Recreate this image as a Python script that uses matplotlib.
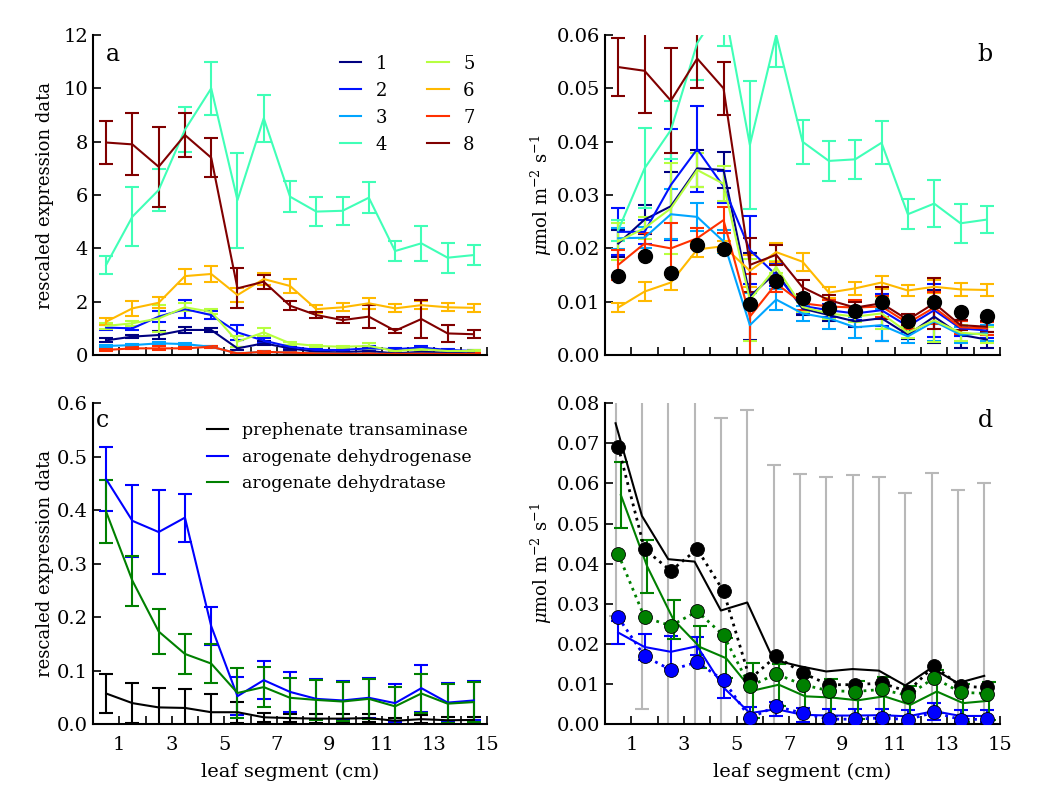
import matplotlib
matplotlib.use("Agg")
import matplotlib.pyplot as plt
from matplotlib.ticker import FormatStrFormatter, FixedLocator

# ---------------------------------------------------------------------------
# data
# ---------------------------------------------------------------------------
segments = [0.5, 1.5, 2.5, 3.5, 4.5, 5.5, 6.5, 7.5, 8.5, 9.5, 10.5, 11.5, 12.5, 13.5, 14.5]
cluster_labels = ["1", "2", "3", "4", "5", "6", "7", "8"]

# panel a: rescaled expression per cluster
expr = [
    [0.55, 0.69, 0.75, 0.94, 0.94, 0.25, 0.44, 0.25, 0.12, 0.10, 0.15, 0.06, 0.12, 0.09, 0.06],
    [1.03, 1.00, 1.44, 1.72, 1.50, 0.85, 0.54, 0.31, 0.19, 0.19, 0.25, 0.22, 0.28, 0.19, 0.15],
    [0.34, 0.37, 0.44, 0.41, 0.31, 0.06, 0.12, 0.09, 0.06, 0.05, 0.05, 0.04, 0.05, 0.04, 0.04],
    [3.38, 5.19, 6.19, 8.45, 10.0, 5.81, 8.88, 5.94, 5.38, 5.41, 5.90, 3.90, 4.19, 3.65, 3.75],
    [1.09, 1.19, 1.37, 1.79, 1.62, 0.50, 0.85, 0.44, 0.34, 0.31, 0.34, 0.15, 0.22, 0.15, 0.15],
    [1.25, 1.75, 1.96, 2.96, 3.04, 2.25, 2.85, 2.59, 1.72, 1.79, 1.94, 1.75, 1.87, 1.79, 1.77],
    [0.19, 0.25, 0.25, 0.25, 0.31, 0.06, 0.12, 0.09, 0.06, 0.05, 0.05, 0.04, 0.05, 0.04, 0.04],
    [7.97, 7.90, 7.06, 8.25, 7.40, 2.50, 2.75, 1.85, 1.50, 1.31, 1.44, 0.91, 1.35, 0.81, 0.78],
]
expr_err = [
    [0.08, 0.07, 0.15, 0.10, 0.08, 0.06, 0.08, 0.05, 0.04, 0.03, 0.10, 0.03, 0.05, 0.03, 0.03],
    [0.10, 0.08, 0.20, 0.35, 0.15, 0.28, 0.10, 0.06, 0.04, 0.04, 0.10, 0.04, 0.05, 0.04, 0.03],
    [0.05, 0.05, 0.06, 0.05, 0.04, 0.02, 0.03, 0.02, 0.02, 0.02, 0.02, 0.02, 0.02, 0.02, 0.02],
    [0.33, 1.10, 0.80, 0.85, 1.00, 1.78, 0.88, 0.58, 0.54, 0.53, 0.59, 0.37, 0.66, 0.56, 0.37],
    [0.10, 0.10, 0.50, 0.15, 0.10, 0.20, 0.15, 0.06, 0.04, 0.04, 0.10, 0.04, 0.06, 0.04, 0.04],
    [0.12, 0.28, 0.20, 0.28, 0.29, 0.25, 0.24, 0.26, 0.15, 0.15, 0.20, 0.15, 0.15, 0.15, 0.15],
    [0.04, 0.04, 0.08, 0.04, 0.04, 0.02, 0.03, 0.02, 0.02, 0.02, 0.02, 0.02, 0.02, 0.02, 0.02],
    [0.81, 1.16, 1.50, 0.83, 0.74, 0.75, 0.27, 0.17, 0.12, 0.10, 0.44, 0.07, 0.72, 0.31, 0.15],
]

# panel b: flux per cluster (umol m-2 s-1)
flux = [
    [0.0209, 0.0254, 0.0279, 0.0350, 0.0347, 0.0110, 0.0155, 0.0087, 0.0075, 0.0063, 0.0069, 0.0038, 0.0072, 0.0038, 0.0029],
    [0.0231, 0.0231, 0.0319, 0.0386, 0.0316, 0.0197, 0.0150, 0.0092, 0.0084, 0.0078, 0.0084, 0.0054, 0.0084, 0.0050, 0.0046],
    [0.0219, 0.0220, 0.0264, 0.0259, 0.0213, 0.0056, 0.0104, 0.0078, 0.0069, 0.0052, 0.0056, 0.0035, 0.0063, 0.0038, 0.0041],
    [0.0234, 0.0350, 0.0422, 0.0585, 0.0660, 0.0394, 0.0600, 0.0400, 0.0364, 0.0367, 0.0398, 0.0264, 0.0284, 0.0247, 0.0254],
    [0.0213, 0.0238, 0.0275, 0.0347, 0.0321, 0.0103, 0.0165, 0.0090, 0.0078, 0.0072, 0.0078, 0.0042, 0.0065, 0.0042, 0.0038],
    [0.0089, 0.0119, 0.0136, 0.0198, 0.0204, 0.0158, 0.0193, 0.0175, 0.0117, 0.0125, 0.0136, 0.0121, 0.0128, 0.0123, 0.0122],
    [0.0169, 0.0209, 0.0200, 0.0219, 0.0253, 0.0072, 0.0134, 0.0097, 0.0091, 0.0089, 0.0091, 0.0060, 0.0089, 0.0052, 0.0050],
    [0.0540, 0.0533, 0.0477, 0.0556, 0.0500, 0.0169, 0.0188, 0.0127, 0.0103, 0.0089, 0.0097, 0.0066, 0.0097, 0.0056, 0.0053],
]
flux_err = [
    [0.0025, 0.0027, 0.0064, 0.0035, 0.0034, 0.0081, 0.0015, 0.0012, 0.0012, 0.0010, 0.0042, 0.0008, 0.0050, 0.0025, 0.0015],
    [0.0044, 0.0022, 0.0104, 0.0081, 0.0030, 0.0064, 0.0020, 0.0013, 0.0012, 0.0012, 0.0030, 0.0010, 0.0050, 0.0015, 0.0015],
    [0.0020, 0.0020, 0.0047, 0.0026, 0.0021, 0.0060, 0.0019, 0.0014, 0.0020, 0.0020, 0.0030, 0.0013, 0.0037, 0.0015, 0.0015],
    [0.0020, 0.0075, 0.0055, 0.0070, 0.0080, 0.0120, 0.0060, 0.0041, 0.0037, 0.0036, 0.0040, 0.0028, 0.0044, 0.0037, 0.0026],
    [0.0035, 0.0020, 0.0085, 0.0031, 0.0033, 0.0077, 0.0012, 0.0010, 0.0010, 0.0010, 0.0030, 0.0010, 0.0040, 0.0015, 0.0015],
    [0.0009, 0.0018, 0.0014, 0.0014, 0.0010, 0.0030, 0.0018, 0.0017, 0.0010, 0.0012, 0.0013, 0.0011, 0.0012, 0.0012, 0.0012],
    [0.0028, 0.0020, 0.0048, 0.0019, 0.0025, 0.0080, 0.0015, 0.0012, 0.0012, 0.0015, 0.0020, 0.0012, 0.0030, 0.0012, 0.0012],
    [0.0054, 0.0079, 0.0099, 0.0055, 0.0050, 0.0050, 0.0019, 0.0013, 0.0010, 0.0011, 0.0030, 0.0010, 0.0048, 0.0010, 0.0010],
]
flux_total = [0.0149, 0.0186, 0.0153, 0.0206, 0.0198, 0.0096, 0.0139, 0.0106, 0.0088, 0.0083,
              0.0100, 0.0063, 0.0099, 0.0080, 0.0074]

# panel c: enzyme expression
enzyme_labels = ["prephenate transaminase", "arogenate dehydrogenase", "arogenate dehydratase"]
enz_expr = [
    [0.057, 0.039, 0.031, 0.030, 0.022, 0.022, 0.0125, 0.011, 0.010, 0.010, 0.011, 0.006, 0.009, 0.007, 0.0075],
    [0.458, 0.380, 0.359, 0.386, 0.183, 0.052, 0.082, 0.060, 0.047, 0.044, 0.049, 0.039, 0.067, 0.040, 0.044],
    [0.397, 0.268, 0.173, 0.131, 0.113, 0.058, 0.069, 0.049, 0.045, 0.042, 0.047, 0.033, 0.057, 0.038, 0.041],
]
enz_expr_err = [
    [0.036, 0.037, 0.036, 0.036, 0.035, 0.020, 0.008, 0.008, 0.008, 0.008, 0.008, 0.006, 0.008, 0.006, 0.006],
    [0.060, 0.067, 0.078, 0.045, 0.036, 0.035, 0.036, 0.037, 0.037, 0.037, 0.037, 0.036, 0.044, 0.036, 0.037],
    [0.059, 0.047, 0.042, 0.037, 0.037, 0.047, 0.037, 0.037, 0.037, 0.037, 0.037, 0.037, 0.036, 0.037, 0.037],
]

# panel d: enzyme flux, line = predicted (with error), dots = estimate
enz_flux = [
    [0.0750, 0.0519, 0.0411, 0.0405, 0.0283, 0.0303, 0.0160, 0.0144, 0.0131, 0.0137, 0.0133, 0.0096, 0.0140, 0.0102, 0.0120],
    [0.0228, 0.0192, 0.0180, 0.0194, 0.0091, 0.0027, 0.0037, 0.0023, 0.0021, 0.0021, 0.0022, 0.0019, 0.0032, 0.0020, 0.0020],
    [0.0571, 0.0393, 0.0260, 0.0192, 0.0164, 0.0083, 0.0098, 0.0069, 0.0066, 0.0059, 0.0069, 0.0048, 0.0081, 0.0052, 0.0058],
]
enz_flux_err = [
    [0.0480, 0.0482, 0.0480, 0.0480, 0.0481, 0.0479, 0.0486, 0.0480, 0.0484, 0.0483, 0.0484, 0.0481, 0.0485, 0.0482, 0.0482],
    [0.0028, 0.0033, 0.0040, 0.0022, 0.0027, 0.0015, 0.0017, 0.0018, 0.0016, 0.0016, 0.0016, 0.0016, 0.0021, 0.0016, 0.0016],
    [0.0083, 0.0066, 0.0048, 0.0052, 0.0050, 0.0068, 0.0052, 0.0047, 0.0047, 0.0047, 0.0047, 0.0047, 0.0053, 0.0047, 0.0047],
]
enz_flux_est = [
    [0.0692, 0.0436, 0.0382, 0.0436, 0.0331, 0.0112, 0.0169, 0.0127, 0.0098, 0.0098, 0.0102, 0.0081, 0.0145, 0.0094, 0.0091],
    [0.0266, 0.0169, 0.0135, 0.0154, 0.0109, 0.0015, 0.0044, 0.0027, 0.0012, 0.0012, 0.0015, 0.0011, 0.0029, 0.0011, 0.0012],
    [0.0424, 0.0266, 0.0245, 0.0281, 0.0221, 0.0094, 0.0125, 0.0098, 0.0083, 0.0081, 0.0086, 0.0071, 0.0115, 0.0079, 0.0076],
]
enz_colors = ["black", "blue", "green"]
enz_offsets = [-0.1, 0.0, 0.1]

# ---------------------------------------------------------------------------
# style
# ---------------------------------------------------------------------------
plt.rcParams["font.family"] = ["DejaVu Serif"]
plt.rcParams["mathtext.fontset"] = "dejavuserif"
plt.rcParams["font.size"] = 13

LW = 1.5
CAP = 5
cluster_colors = plt.cm.jet([i / 7 for i in range(8)])


def _style_axes(ax, ymax, ystep, fmt, xlabels, ylabel_x):
    ax.set_xlim(0, 15)
    ax.set_ylim(0, ymax)
    for side in ("top", "right"):
        ax.spines[side].set_visible(False)
    ax.spines["left"].set_linewidth(1.5)
    ax.spines["bottom"].set_linewidth(1.5)
    ax.xaxis.set_major_locator(FixedLocator(range(1, 16, 2)))
    ax.xaxis.set_minor_locator(FixedLocator(range(2, 15, 2)))
    n = int(round(ymax / ystep))
    ax.yaxis.set_major_locator(FixedLocator([i * ystep for i in range(n + 1)]))
    ax.yaxis.set_major_formatter(FormatStrFormatter(fmt))
    ax.tick_params(which="both", direction="in", length=6, width=1.2,
                   top=False, right=False, labelsize=14)
    ax.tick_params(axis="x", pad=9)
    if not xlabels:
        ax.tick_params(axis="x", labelbottom=False)
    else:
        ax.set_xlabel("leaf segment (cm)", fontsize=14, labelpad=6)
    ax.yaxis.set_label_coords(ylabel_x, 0.5)


fig = plt.figure(figsize=(10.38, 8.10), dpi=100)
ax_a = fig.add_axes([0.0896, 0.5617, 0.3796, 0.395])
ax_b = fig.add_axes([0.5829, 0.5617, 0.3805, 0.395])
ax_c = fig.add_axes([0.0896, 0.1062, 0.3796, 0.396])
ax_d = fig.add_axes([0.5829, 0.1062, 0.3805, 0.396])

# panel a
for vals, errs, col, lab in zip(expr, expr_err, cluster_colors, cluster_labels):
    ax_a.errorbar(segments, vals, yerr=errs, color=col, lw=LW, elinewidth=LW,
                  capsize=CAP, capthick=LW, label=lab)
_style_axes(ax_a, 12, 2, "%d", False, -0.10)
ax_a.set_ylabel("rescaled expression data")
handles, labels = ax_a.get_legend_handles_labels()
ax_a.legend([h[0] for h in handles], labels, ncol=2, frameon=False, loc="upper right",
            bbox_to_anchor=(1.01, 0.99), handlelength=1.2, handletextpad=0.8,
            columnspacing=2.2, labelspacing=0.5, fontsize=13)
ax_a.text(0.05, 0.94, "a", transform=ax_a.transAxes, fontsize=17, ha="center", va="center")

# panel b
for vals, errs, col in zip(flux, flux_err, cluster_colors):
    ax_b.errorbar(segments, vals, yerr=errs, color=col, lw=LW, elinewidth=LW,
                  capsize=CAP, capthick=LW)
ax_b.plot(segments, flux_total, "o", color="black", markersize=10, zorder=5)
_style_axes(ax_b, 0.06, 0.01, "%.2f", False, -0.13)
ax_b.set_ylabel(r"$\mu$mol m$^{-2}$ s$^{-1}$")
ax_b.text(0.962, 0.94, "b", transform=ax_b.transAxes, fontsize=17, ha="center", va="center")

# panel c
for vals, errs, col, lab in zip(enz_expr, enz_expr_err, enz_colors, enzyme_labels):
    ax_c.errorbar(segments, vals, yerr=errs, color=col, lw=LW, elinewidth=LW,
                  capsize=CAP, capthick=LW, label=lab)
_style_axes(ax_c, 0.6, 0.1, "%.1f", True, -0.10)
ax_c.set_ylabel("rescaled expression data")
handles, labels = ax_c.get_legend_handles_labels()
ax_c.legend([h[0] for h in handles], labels, frameon=False, loc="upper right",
            bbox_to_anchor=(1.0, 0.99), handlelength=1.2, handletextpad=0.8,
            labelspacing=0.55, fontsize=12.5)
ax_c.text(0.025, 0.947, "c", transform=ax_c.transAxes, fontsize=17, ha="center", va="center")

# panel d
for vals, errs, col, off in zip(enz_flux, enz_flux_err, enz_colors, enz_offsets):
    xs = [s + off for s in segments]
    ecol = "0.72" if col == "black" else col
    ax_d.errorbar(xs, vals, yerr=errs, color=col, ecolor=ecol, lw=LW, elinewidth=LW,
                  capsize=CAP, capthick=LW)
for vals, col in zip(enz_flux_est, enz_colors):
    ax_d.plot(segments, vals, ":", color=col, lw=2)
    ax_d.plot(segments, vals, "o", color=col, mec="black", mew=0.6, markersize=10, zorder=5)
_style_axes(ax_d, 0.08, 0.01, "%.2f", True, -0.13)
ax_d.set_ylabel(r"$\mu$mol m$^{-2}$ s$^{-1}$")
ax_d.text(0.962, 0.947, "d", transform=ax_d.transAxes, fontsize=17, ha="center", va="center")

fig.savefig("out.png", dpi=100)
